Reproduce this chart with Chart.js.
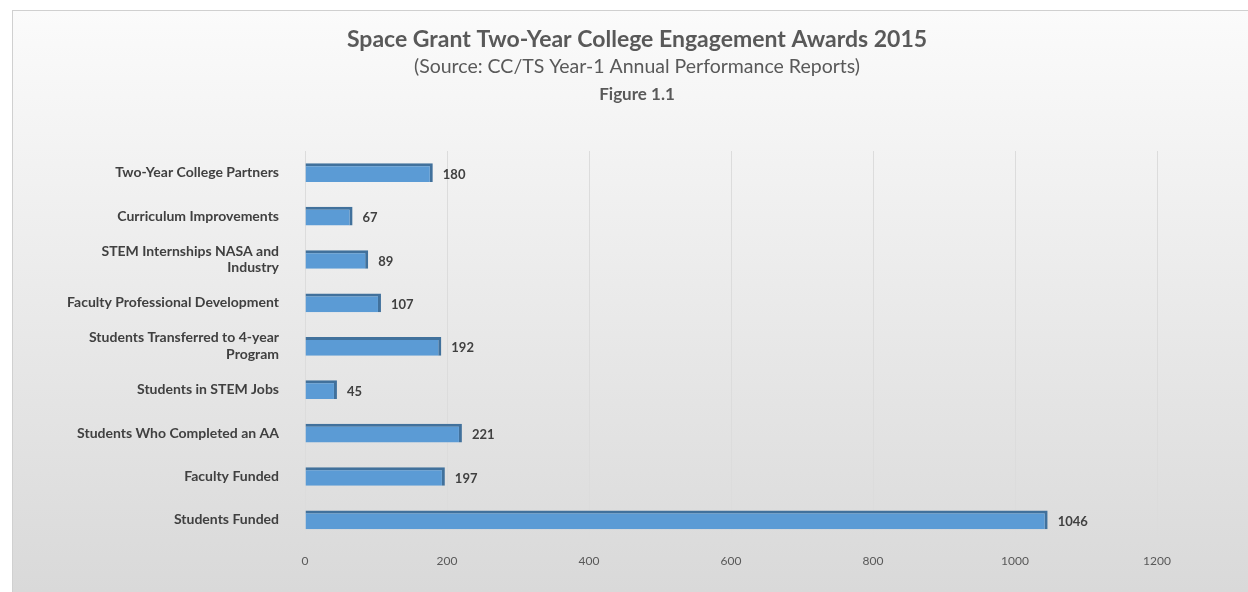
<!DOCTYPE html>
<html>
<head>
<meta charset="utf-8">
<script src="https://cdn.jsdelivr.net/npm/chart.js@4"></script>
<style>
  html, body { margin: 0; padding: 0; background: #fff; }
  #wrap { width: 1248px; height: 592px; }
</style>
</head>
<body>
<div id="wrap"><canvas id="awardsChart" width="1248" height="592"></canvas></div>
<script>
const categories = [
  'Two-Year College Partners',
  'Curriculum Improvements',
  ['STEM Internships NASA and', 'Industry'],
  'Faculty Professional Development',
  ['Students Transferred to 4-year', 'Program'],
  'Students in STEM Jobs',
  'Students Who Completed an AA',
  'Faculty Funded',
  'Students Funded'
];
const awardCounts = [180, 67, 89, 107, 192, 45, 221, 197, 1046];
const xTicks = [0, 200, 400, 600, 800, 1000, 1200];

const titleLines = [
  { text: 'Space Grant Two-Year College Engagement Awards 2015', font: 'bold 23px Lato', y: 40 },
  { text: '(Source: CC/TS Year-1 Annual Performance Reports)', font: '19.5px Lato', y: 67 },
  { text: 'Figure 1.1', font: 'bold 17px Lato', y: 95 }
];

// panel background + titles
const panelPlugin = {
  id: 'panel',
  beforeDraw(chart) {
    const ctx = chart.ctx;
    ctx.save();
    const g = ctx.createLinearGradient(0, 10, 0, 592);
    g.addColorStop(0, '#fbfbfb');
    g.addColorStop(1, '#d9d9d9');
    ctx.fillStyle = g;
    ctx.fillRect(12, 10, 1236, 582);
    ctx.strokeStyle = '#d0d0d0';
    ctx.lineWidth = 1;
    ctx.strokeRect(12.5, 10.5, 1240, 590);
    ctx.fillStyle = '#595959';
    ctx.textAlign = 'center';
    ctx.textBaseline = 'middle';
    titleLines.forEach(l => {
      ctx.font = l.font;
      ctx.fillText(l.text, 637, l.y);
    });
    ctx.restore();
  }
};

// value labels at the end of each bar
const valueLabels = {
  id: 'valueLabels',
  afterDatasetsDraw(chart) {
    const ctx = chart.ctx;
    const meta = chart.getDatasetMeta(0);
    ctx.save();
    ctx.font = 'bold 13px Lato';
    ctx.fillStyle = '#404040';
    ctx.textBaseline = 'middle';
    meta.data.forEach((bar, i) => {
      ctx.fillText(awardCounts[i], bar.x + 10, bar.y + 2);
    });
    ctx.restore();
  }
};

new Chart(document.getElementById('awardsChart'), {
  type: 'bar',
  data: {
    labels: categories,
    datasets: [{
      data: awardCounts,
      backgroundColor: '#5b9bd5',
      borderColor: '#41719c',
      borderWidth: { top: 3, right: 3, bottom: 0, left: 0 },
      borderSkipped: false,
      categoryPercentage: 1,
      barPercentage: 0.43
    }]
  },
  options: {
    indexAxis: 'y',
    responsive: false,
    animation: false,
    layout: { padding: { top: 151, right: 91, bottom: 12, left: 0 } },
    plugins: {
      legend: { display: false },
      tooltip: { enabled: false }
    },
    scales: {
      x: {
        min: 0,
        max: 1200,
        afterBuildTicks(axis) { axis.ticks = xTicks.map(v => ({ value: v })); },
        grid: { color: '#dcdcdc', drawTicks: false },
        border: { display: false },
        ticks: {
          color: '#595959',
          font: { family: 'Lato', size: 12 },
          padding: 12,
          callback: v => String(v)
        }
      },
      y: {
        afterFit(axis) { axis.width = 305; },
        grid: { display: false },
        border: { display: false },
        ticks: { color: '#404040', font: { family: 'Lato', size: 14, weight: 'bold' }, padding: 18 }
      }
    }
  },
  plugins: [panelPlugin, valueLabels]
});
</script>
</body>
</html>
